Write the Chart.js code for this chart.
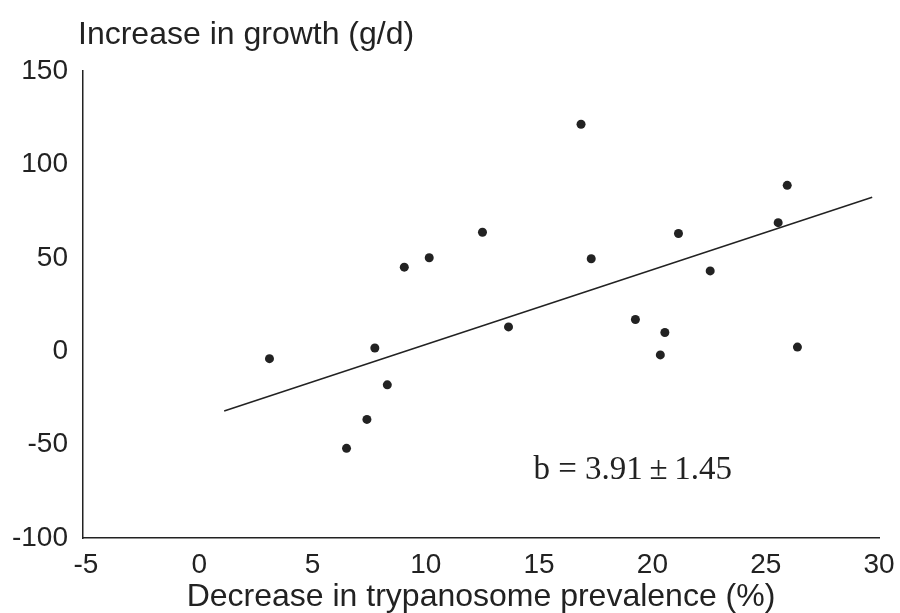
<!DOCTYPE html>
<html>
<head>
<meta charset="utf-8">
<script src="https://cdn.jsdelivr.net/npm/chart.js@4.4.1/dist/chart.umd.min.js"></script>
<style>
  html, body { margin:0; padding:0; background:#fff; }
  #wrap { width:900px; height:613px; }
</style>
</head>
<body>
<div id="wrap"><canvas id="chart" width="900" height="613"></canvas></div>
<script>
// data
const prevalenceDrop = [3.1, 6.5, 7.4, 7.75, 8.3, 9.05, 10.15, 12.5, 13.65, 16.85, 17.3, 19.25, 20.55, 20.35, 21.15, 22.55, 25.55, 25.95, 26.4];
const growthGain    = [-4, -52, -36.5, 1.7, -18, 45, 50, 63.7, 13, 121.5, 49.5, 17, 10, -2, 63, 43, 68.8, 88.8, 2.2];

// regression line end points
const fitX = [1.1, 29.7];
const fitY = [-32, 82.4];

// the axis line starts a hair left of the -5 tick in the original
const xTicks = { min: -5.13, max: 30, step: 5 };
const yTicks = { min: -100, max: 150, step: 50 };

const yTitle = 'Increase in growth (g/d)';
const xTitle = 'Decrease in trypanosome prevalence (%)';
const slopeNote = 'b = 3.91\u2009\u00b1\u20091.45';
const notePos = { x: 14.75, y: -68.4 };

const ink = '#222';

const toPoints = (xs, ys) => xs.map((x, i) => ({ x, y: ys[i] }));

// draws the horizontal y title and the slope note
const extraText = {
  id: 'extraText',
  afterDraw(chart) {
    const ctx = chart.ctx;
    const { x, y } = chart.scales;
    ctx.save();
    ctx.fillStyle = ink;
    ctx.font = '32px "Liberation Sans", Arial, sans-serif';
    ctx.textAlign = 'left';
    ctx.textBaseline = 'alphabetic';
    ctx.fillText(yTitle, 78, 44);
    ctx.font = '33px "Liberation Serif", "Times New Roman", serif';
    ctx.fillText(slopeNote, x.getPixelForValue(notePos.x), y.getPixelForValue(notePos.y));
    ctx.restore();
  }
};

new Chart(document.getElementById('chart').getContext('2d'), {
  type: 'scatter',
  data: {
    datasets: [
      {
        data: toPoints(prevalenceDrop, growthGain),
        pointRadius: 4.5,
        pointBackgroundColor: ink,
        pointBorderColor: ink,
        pointBorderWidth: 0
      },
      {
        type: 'line',
        data: toPoints(fitX, fitY),
        showLine: true,
        borderColor: ink,
        borderWidth: 1.5,
        pointRadius: 0,
        fill: false
      }
    ]
  },
  options: {
    responsive: false,
    animation: false,
    layout: { padding: { top: 71, right: 21, left: 0, bottom: 0 } },
    plugins: { legend: { display: false }, tooltip: { enabled: false } },
    scales: {
      x: {
        type: 'linear',
        min: xTicks.min, max: xTicks.max,
        afterFit: s => { s.height = 75; s.paddingLeft = 0; s.paddingRight = 0; },
        grid: { display: false, drawTicks: false },
        border: { display: true, color: ink, width: 1.5 },
        ticks: { stepSize: xTicks.step, includeBounds: false, color: ink, padding: 10, font: { family: '"Liberation Sans", Arial, sans-serif', size: 28 } },
        title: { display: true, text: xTitle, color: ink, padding: 0, font: { family: '"Liberation Sans", Arial, sans-serif', size: 32, lineHeight: 1 } }
      },
      y: {
        type: 'linear',
        min: yTicks.min, max: yTicks.max,
        afterFit: s => { s.width = 83; },
        grid: { display: false, drawTicks: false },
        border: { display: true, color: ink, width: 1.5 },
        ticks: { stepSize: yTicks.step, color: ink, padding: 15, font: { family: '"Liberation Sans", Arial, sans-serif', size: 28 } }
      }
    }
  },
  plugins: [extraText]
});
</script>
</body>
</html>
